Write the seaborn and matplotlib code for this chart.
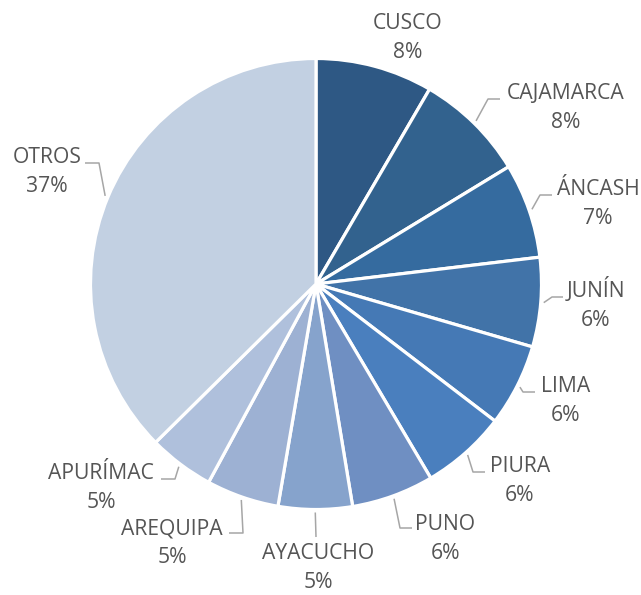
import matplotlib
matplotlib.use("Agg")
import matplotlib.pyplot as plt
import numpy as np
import seaborn as sns

# data (shares in %)
regions = ["CUSCO", "CAJAMARCA", "ÁNCASH", "JUNÍN", "LIMA", "PIURA",
           "PUNO", "AYACUCHO", "AREQUIPA", "APURÍMAC", "OTROS"]
shares = [8.4, 7.9, 6.8, 6.4, 5.9, 6.1, 5.9, 5.3, 5.2, 4.7, 37.4]
colors = ["#2E5884", "#32628E", "#356B9F", "#4173A8", "#4579B5", "#4A7FBE",
          "#6F8FC2", "#86A3CC", "#9DB1D3", "#AFC0DC", "#C2D0E2"]

# layout (pixel space, y down): label centres / baselines and leader elbows
label_x = [408, 566, 598, 596, 566, 520, 445, 318, 172, 101, 47]
label_base = [29, 99, 195, 297, 392, 472, 530, 559, 534, 479, 163]
elbows = [None, ((488, 99), (500, 99)), ((540, 195), (552, 195)),
          ((552, 297), (563, 297)), ((523, 392), (535, 392)),
          ((473, 472), (485, 472)), ((400, 528), (412, 528)),
          ((316, 537), (316, 537)), ((243, 533), (229, 533)),
          ((175, 479), (161, 479)), ((99, 163), (85, 163))]

sns.set_theme(style="white")
plt.rcParams["font.family"] = ["Open Sans", "DejaVu Sans"]

W, H = 641, 595
fig = plt.figure(figsize=(W / 100, H / 100), dpi=100)
ax = fig.add_axes([0, 0, 1, 1])

cx, cy, R = 316, 284, 225.5
wedges, _ = ax.pie(shares, colors=colors, center=(cx, cy), radius=R,
                   startangle=-90, counterclock=True,
                   wedgeprops={"edgecolor": "white", "linewidth": 2.3})

ax.set_xlim(0, W)
ax.set_ylim(H, 0)
ax.set_aspect("equal")
ax.axis("off")

total = sum(shares)
txt_color = "#555555"
for i, w in enumerate(wedges):
    pct = round(shares[i] / total * 100)
    ax.text(label_x[i], label_base[i], regions[i], ha="center", va="baseline",
            fontsize=15.2, color=txt_color)
    ax.text(label_x[i], label_base[i] + 29, f"{pct}%", ha="center",
            va="baseline", fontsize=15.2, color=txt_color)
    if elbows[i] is None:
        continue
    mid = np.deg2rad((w.theta1 + w.theta2) / 2)
    sx, sy = cx + (R + 3) * np.cos(mid), cy + (R + 3) * np.sin(mid)
    (ex, ey), (fx, fy) = elbows[i]
    ax.plot([sx, ex, fx], [sy, ey, fy], color="#A6A6A6", lw=1.1,
            solid_capstyle="butt")

fig.savefig("out.png", dpi=100, facecolor="white")
